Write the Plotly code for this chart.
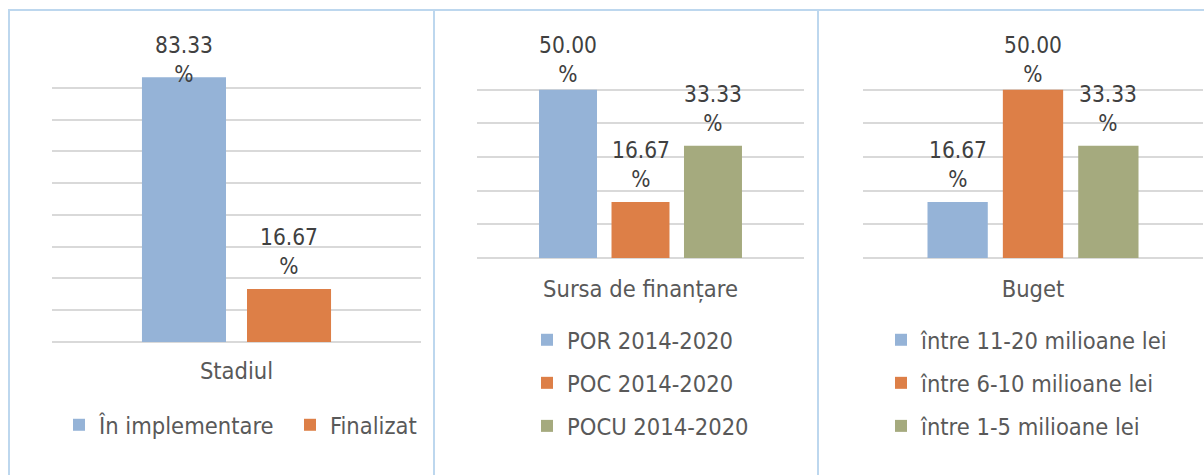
import plotly.graph_objects as go

# ---------------- data ----------------
stadiul_category = "Stadiul"
stadiul_series = ["În implementare", "Finalizat"]
stadiul_values = [83.33, 16.67]

sursa_category = "Sursa de finanțare"
sursa_series = ["POR 2014-2020", "POC 2014-2020", "POCU 2014-2020"]
sursa_values = [50.00, 16.67, 33.33]

buget_category = "Buget"
buget_series = ["între 11-20 milioane lei", "între 6-10 milioane lei", "între 1-5 milioane lei"]
buget_values = [16.67, 50.00, 33.33]

# ---------------- style ----------------
W, H = 1204, 475
FONT = "DejaVu Sans Condensed, DejaVu Sans, sans-serif"
FS = 22.5
FS_TXT = 23.5
COLORS = ["#95B3D7", "#DD7F47", "#A5AA7E"]
TXT = "#595959"
LBL = "#404040"
GRID = "#D9D9D9"
BORDER = "#BDD7EE"
BARGAP = 0.335
GROUPGAP = 0.2

def px_x(p):
    return p / W

def px_y(p):
    return 1 - p / H

# panel geometry (pixels)
panels = [
    dict(cat=stadiul_category, names=stadiul_series, vals=stadiul_values,
         x0=52, x1=421, ytop=56, ybase=342, ymax=90, half=0.584, standoff=12,
         legend="legend", colors=COLORS[:2]),
    dict(cat=sursa_category, names=sursa_series, vals=sursa_values,
         x0=477, x1=804, ytop=56, ybase=258, ymax=60, half=0.5, standoff=14,
         legend="legend2", colors=COLORS),
    dict(cat=buget_category, names=buget_series, vals=buget_values,
         x0=863, x1=1203, ytop=56, ybase=258, ymax=60, half=0.5, standoff=14,
         legend="legend3", colors=COLORS),
]

fig = go.Figure()
annotations = []
LINE_H = 1.3 * FS
for k, p in enumerate(panels):
    ax = "" if k == 0 else str(k + 1)
    n = len(p["vals"])
    for i, (name, v) in enumerate(zip(p["names"], p["vals"])):
        fig.add_trace(go.Bar(
            x=[p["cat"]], y=[v], name=name,
            marker=dict(color=p["colors"][i], line=dict(width=0)),
            xaxis="x" + ax, yaxis="y" + ax, legend=p["legend"],
            legendgroup=f"g{k}_{i}", hoverinfo="skip",
        ))
        # data label
        ppu = (p["ybase"] - p["ytop"]) / p["ymax"]
        bar_top = p["ybase"] - v * ppu
        offset = (i - (n - 1) / 2) * (1 - BARGAP) / n
        label = f"{v:.2f}<br>%"
        normal_top = bar_top - 8 - 2 * LINE_H - 4
        if normal_top < 28.4:
            annotations.append(dict(
                x=offset, y=p["ymax"], xref="x" + ax, yref="y" + ax,
                text=label, showarrow=False, yanchor="top", yshift=25.6,
                font=dict(family=FONT, size=FS, color=LBL)))
        else:
            annotations.append(dict(
                x=offset, y=v, xref="x" + ax, yref="y" + ax,
                text=label, showarrow=False, yanchor="bottom", yshift=8,
                font=dict(family=FONT, size=FS, color=LBL)))

layout = dict(
    width=W, height=H, margin=dict(l=0, r=0, t=0, b=0),
    paper_bgcolor="white", plot_bgcolor="white",
    barmode="group", bargap=BARGAP, bargroupgap=GROUPGAP,
    font=dict(family=FONT, size=FS_TXT, color=TXT),
    annotations=annotations, showlegend=True,
)
for k, p in enumerate(panels):
    ax = "" if k == 0 else str(k + 1)
    layout["xaxis" + ax] = dict(
        domain=[px_x(p["x0"]), px_x(p["x1"])], anchor="y" + ax,
        type="category", range=[-p["half"], p["half"]],
        showgrid=False, showline=False, ticks="", zeroline=False,
        tickfont=dict(family=FONT, size=FS_TXT, color=TXT),
        ticklabelstandoff=p["standoff"], fixedrange=True,
    )
    layout["yaxis" + ax] = dict(
        domain=[px_y(p["ybase"]), px_y(p["ytop"])], anchor="x" + ax,
        range=[0, p["ymax"]], dtick=10, showticklabels=False,
        showgrid=True, gridcolor=GRID, gridwidth=1.5,
        zeroline=True, zerolinecolor=GRID, zerolinewidth=1.5,
        showline=False, ticks="", fixedrange=True,
    )

layout["legend"] = dict(
    orientation="h", x=px_x(59), y=px_y(403), xanchor="left", yanchor="top",
    font=dict(family=FONT, size=FS_TXT, color=TXT), bgcolor="rgba(0,0,0,0)",
    entrywidth=186, entrywidthmode="pixels", traceorder="normal",
)
layout["legend2"] = dict(
    orientation="v", x=px_x(527), y=px_y(318), xanchor="left", yanchor="top",
    font=dict(family=FONT, size=FS_TXT, color=TXT), bgcolor="rgba(0,0,0,0)",
    tracegroupgap=9.5, traceorder="grouped",
)
layout["legend3"] = dict(
    orientation="v", x=px_x(881), y=px_y(318), xanchor="left", yanchor="top",
    font=dict(family=FONT, size=FS_TXT, color=TXT), bgcolor="rgba(0,0,0,0)",
    tracegroupgap=9.5, traceorder="grouped",
)

shapes = [
    dict(type="line", xref="paper", yref="paper", x0=px_x(8), x1=1, y0=px_y(10), y1=px_y(10),
         line=dict(color=BORDER, width=2)),
]
for xb in [9, 434, 818]:
    shapes.append(dict(type="line", xref="paper", yref="paper", x0=px_x(xb), x1=px_x(xb),
                       y0=0, y1=px_y(10), line=dict(color=BORDER, width=2)))
layout["shapes"] = shapes

fig.update_layout(**layout)
fig.write_html(
    "out.html",
    config={"displayModeBar": False, "staticPlot": False},
    post_script="document.body.style.margin='0';document.body.style.padding='0';",
)
